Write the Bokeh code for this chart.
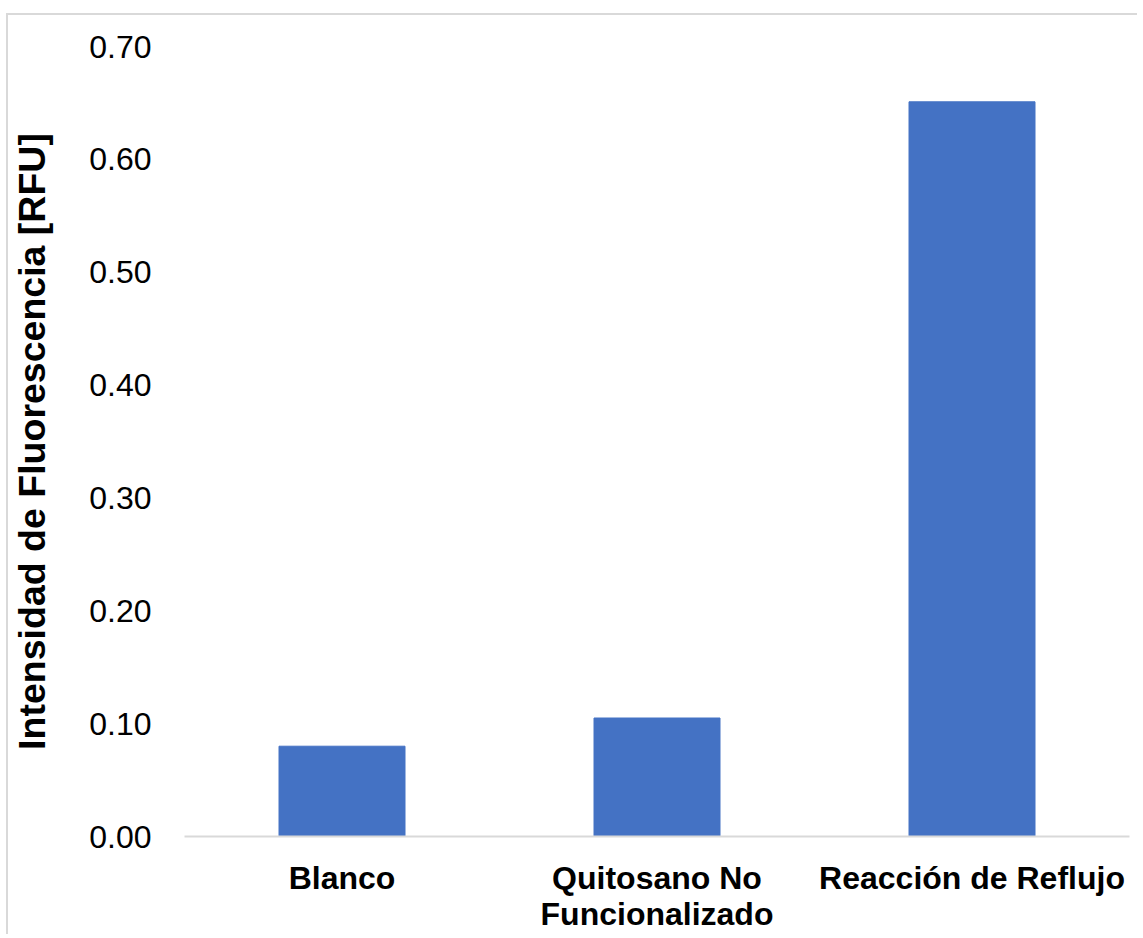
from bokeh.plotting import figure
from bokeh.models import FactorRange, Range1d, FixedTicker, NumeralTickFormatter, ColumnDataSource
from bokeh.embed import file_html
from bokeh.resources import INLINE

categories = ["Blanco", "Quitosano No\nFuncionalizado", "Reacción de Reflujo"]
values = [0.080, 0.105, 0.651]
y_ticks = [0.0, 0.1, 0.2, 0.3, 0.4, 0.5, 0.6, 0.7]

src = ColumnDataSource(dict(cat=categories, val=values))

p = figure(x_range=FactorRange(*categories), y_range=Range1d(0, 0.70),
           width=1131, height=921, output_backend="svg", toolbar_location=None,
           min_border_left=172, min_border_right=10, min_border_top=31, min_border_bottom=100)
p.styles = {"margin-top": "13px", "margin-left": "6px",
            "border-left": "2px solid #d9d9d9", "border-top": "2px solid #d9d9d9"}

p.vbar(x="cat", top="val", width=0.4, source=src, fill_color="#4472C4", line_color="#4472C4")

p.outline_line_color = None
p.xgrid.grid_line_color = None
p.ygrid.grid_line_color = None
p.background_fill_color = "white"
p.border_fill_color = "white"

p.x_range.range_padding = 0
p.xaxis.axis_line_color = "#d9d9d9"
p.xaxis.axis_line_width = 2
p.xaxis.major_tick_line_color = None
p.xaxis.minor_tick_line_color = None
p.xaxis.major_label_text_font = "Liberation Sans"
p.xaxis.major_label_text_font_style = "bold"
p.xaxis.major_label_text_font_size = "32px"
p.xaxis.major_label_text_line_height = 1.0
p.xaxis.major_label_text_color = "black"
p.xaxis.major_label_standoff = 17

p.yaxis.ticker = FixedTicker(ticks=y_ticks)
p.yaxis.formatter = NumeralTickFormatter(format="0.00")
p.yaxis.axis_line_color = None
p.yaxis.major_tick_line_color = None
p.yaxis.minor_tick_line_color = None
p.yaxis.major_label_text_font = "Liberation Sans"
p.yaxis.major_label_text_font_size = "32px"
p.yaxis.major_label_text_color = "black"
p.yaxis.major_label_standoff = 27
p.yaxis.axis_label = "Intensidad de Fluorescencia [RFU]"
p.yaxis.axis_label_text_font = "Liberation Sans"
p.yaxis.axis_label_text_font_style = "bold"
p.yaxis.axis_label_text_font_size = "37.5px"
p.yaxis.axis_label_text_color = "black"
p.yaxis.axis_label_standoff = 33

open("out.html", "w").write(file_html(p, INLINE))
